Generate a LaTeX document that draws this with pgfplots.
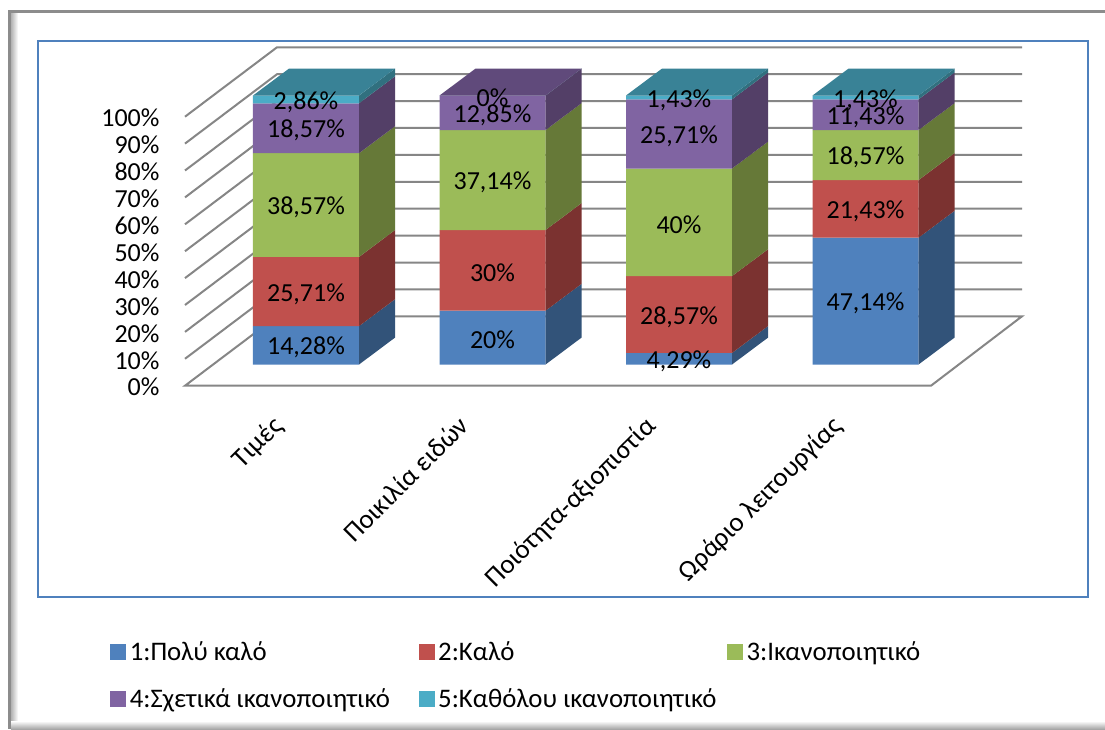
\documentclass[border=0pt]{standalone}
\usepackage{fontspec}
\setmainfont{Carlito}
\usepackage{pgfplots}
\usepackage{pgfplotstable}
\pgfplotsset{compat=1.18}

\definecolor{fBlue}{HTML}{4F81BD}
\definecolor{sBlue}{HTML}{325379}
\definecolor{fRed}{HTML}{C0504D}
\definecolor{sRed}{HTML}{7B3230}
\definecolor{fGreen}{HTML}{9BBB59}
\definecolor{sGreen}{HTML}{667938}
\definecolor{fPurple}{HTML}{8064A2}
\definecolor{sPurple}{HTML}{533F67}
\definecolor{tPurple}{HTML}{604A7B}
\definecolor{fTeal}{HTML}{4BACC6}
\definecolor{sTeal}{HTML}{31707F}
\definecolor{tTeal}{HTML}{398296}
\definecolor{gridgray}{HTML}{868686}
\definecolor{frameblue}{HTML}{4F81BD}

\pgfplotstableread{
x v1 v2 v3 v4 v5
0 14.28 25.71 38.57 18.57 2.86
1 20 30 37.14 12.85 0
2 4.29 28.57 40 25.71 1.43
3 47.14 21.43 18.57 11.43 1.43
}\ratings

% bar geometry in axis units: front face offset, width, depth
\def\barL{0.3646}
\def\barR{0.933}
\def\barDx{0.193}
\def\barDy{10}
\def\barBase{7.87}
% wall depth
\def\wallDx{0.4933}
\def\wallDy{25.8}

\newcommand{\segment}[4]{%
  \pgfplotstablegetelem{#1}{#2}\of\ratings
  \let\val\pgfplotsretval
  \pgfmathsetmacro\xl{#1+\barL}
  \pgfmathsetmacro\xr{#1+\barR}
  \pgfmathsetmacro\xd{\xr+\barDx}
  \pgfmathsetmacro\ytop{\ybase+\val}
  \pgfmathsetmacro\ybd{\ybase+\barDy}
  \pgfmathsetmacro\ytd{\ytop+\barDy}
  \addplot[fill=#3,draw=none,forget plot] coordinates {(\xl,\ybase) (\xr,\ybase) (\xr,\ytop) (\xl,\ytop) (\xl,\ybase)};
  \addplot[fill=#4,draw=none,forget plot] coordinates {(\xr,\ybase) (\xd,\ybd) (\xd,\ytd) (\xr,\ytop) (\xr,\ybase)};
  \xdef\ybase{\ytop}%
}
\newcommand{\topface}[2]{%
  \pgfmathsetmacro\xl{#1+\barL}
  \pgfmathsetmacro\xr{#1+\barR}
  \pgfmathsetmacro\xd{\xr+\barDx}
  \pgfmathsetmacro\xe{\xl+\barDx}
  \pgfmathsetmacro\ytd{\ybase+\barDy}
  \addplot[fill=#2,draw=none,forget plot] coordinates {(\xl,\ybase) (\xr,\ybase) (\xd,\ytd) (\xe,\ytd) (\xl,\ybase)};
}
\newcommand{\seglabel}[2]{%
  \pgfplotstablegetelem{#1}{#2}\of\ratings
  \let\val\pgfplotsretval
  \pgfmathsetmacro\xc{#1+(\barL+\barR)/2}
  \pgfmathsetmacro\ym{\ybase+\val/2-0.9}
  \edef\lbl{\noexpand\node[font=\noexpand\fontsize{26}{30}\noexpand\selectfont,inner sep=0pt] at (axis cs:\xc,\ym) {\noexpand\pgfmathprintnumber[fixed,use comma,precision=2,assume math mode=true]{\val}\noexpand\%};}%
  \lbl
  \pgfmathsetmacro\ynext{\ybase+\val}
  \xdef\ybase{\ynext}%
}
\newcommand{\wallline}[1]{%
  \pgfmathsetmacro\yb{#1+\wallDy}
  \pgfmathsetmacro\xb{\wallDx}
  \pgfmathsetmacro\xe{4.488}
  \addplot[gridgray,line width=2pt,forget plot] coordinates {(0,#1) (\xb,\yb) (\xe,\yb)};
}

\begin{document}
\begin{tikzpicture}
\useasboundingbox (0pt,0pt) rectangle (1105pt,729pt);
% outer frame with soft shadow
\fill[white] (0pt,0pt) rectangle (1105pt,729pt);
\shade[left color=black!30,right color=white] (11pt,4pt) rectangle (18pt,717pt);
\shade[bottom color=black!35,top color=white] (11pt,0pt) rectangle (1105pt,8pt);
\fill[black!45] (8pt,0pt) rectangle (11pt,718pt);
\fill[black!45] (8pt,716pt) rectangle (1105pt,719pt);
% blue chart frame
\draw[frameblue,line width=2.6pt] (38pt,688pt) rectangle (1088pt,132pt);

\begin{axis}[
    at={(185pt,343.3pt)}, anchor=south west,
    width=746pt, height=269pt, scale only axis,
    xmin=0, xmax=4, ymin=0, ymax=100,
    clip=false,
    axis line style={draw=none},
    major tick length=0pt,
    tick style={draw=none},
    ytick={0,10,...,100},
    yticklabel={\pgfmathprintnumber{\tick}\%},
    yticklabel style={font=\fontsize{26}{30}\selectfont,anchor=east,xshift=-22pt,yshift=-1.5pt},
    /pgf/number format/assume math mode=true,
    xtick={0.5,1.5,2.5,3.5},
    xticklabels={Τιμές,Ποικιλία ειδών,Ποιότητα-αξιοπιστία,Ωράριο λειτουργίας},
    xticklabel style={font=\fontsize{27}{31}\selectfont,rotate=45,anchor=north east,xshift=-22pt,yshift=-11pt},
    legend columns=3,
    legend cell align=left,
    legend style={
        at={(rel axis cs:-0.1003,-0.943)}, anchor=north west,
        draw=none, fill=none, font=\fontsize{26.8}{31}\selectfont,
        row sep=23pt, inner sep=0pt,
    },
]
% wall and floor
\pgfplotsinvokeforeach{10,20,...,100}{\wallline{#1}}
\addplot[gridgray,line width=2pt,forget plot] coordinates {(0.4933,25.8) (4.488,25.8) (4,0) (0,0) (0.4933,25.8)};

\pgfplotsinvokeforeach{0,1,2,3}{
  \xdef\ybase{\barBase}
  \segment{#1}{v1}{fBlue}{sBlue}
  \segment{#1}{v2}{fRed}{sRed}
  \segment{#1}{v3}{fGreen}{sGreen}
  \segment{#1}{v4}{fPurple}{sPurple}
  \segment{#1}{v5}{fTeal}{sTeal}
}
\xdef\ybase{107.87}
\topface{0}{tTeal}
\topface{1}{tPurple}
\topface{2}{tTeal}
\topface{3}{tTeal}

\pgfplotsinvokeforeach{0,1,2,3}{
  \xdef\ybase{\barBase}
  \seglabel{#1}{v1}
  \seglabel{#1}{v2}
  \seglabel{#1}{v3}
  \seglabel{#1}{v4}
  \seglabel{#1}{v5}
}

\addlegendimage{legend image code/.code={\fill[fBlue] (0pt,-7.5pt) rectangle (15pt,7.5pt);}}
\addlegendentry{\makebox[289pt][l]{\hspace*{2pt}1:Πολύ καλό}}
\addlegendimage{legend image code/.code={\fill[fRed] (0pt,-7.5pt) rectangle (15pt,7.5pt);}}
\addlegendentry{\makebox[289pt][l]{\hspace*{2pt}2:Καλό}}
\addlegendimage{legend image code/.code={\fill[fGreen] (0pt,-7.5pt) rectangle (15pt,7.5pt);}}
\addlegendentry{\hspace*{2pt}3:Ικανοποιητικό}
\addlegendimage{legend image code/.code={\fill[fPurple] (0pt,-7.5pt) rectangle (15pt,7.5pt);}}
\addlegendentry{\makebox[289pt][l]{\hspace*{2pt}4:Σχετικά ικανοποιητικό}}
\addlegendimage{legend image code/.code={\fill[fTeal] (0pt,-7.5pt) rectangle (15pt,7.5pt);}}
\addlegendentry{\hspace*{2pt}5:Καθόλου ικανοποιητικό}
\end{axis}
\end{tikzpicture}
\end{document}
